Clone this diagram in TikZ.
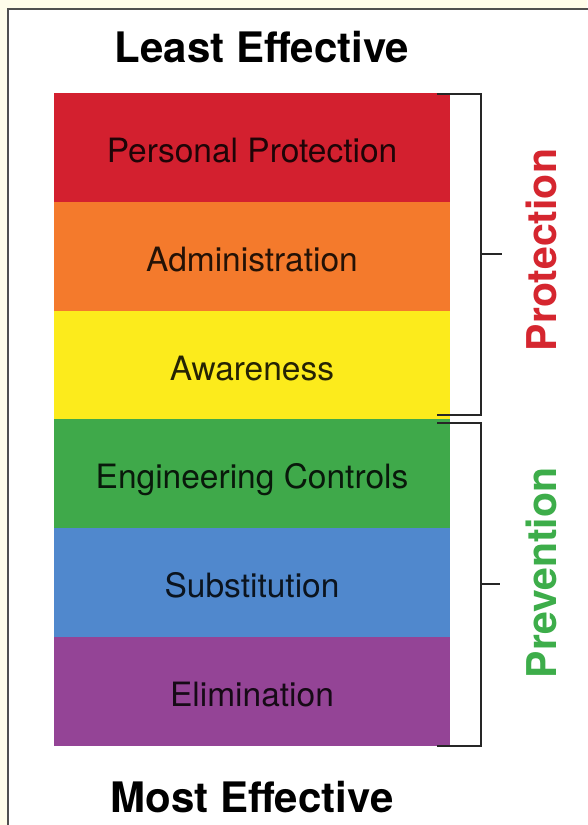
\documentclass[tikz,border=0pt]{standalone}
\usepackage{fontspec}
\setmainfont{TeX Gyre Heros}
\usepackage{tikz}
\definecolor{pagecream}{HTML}{FFFDEA}
\definecolor{framegrey}{HTML}{505050}
\definecolor{ppred}{HTML}{D3202F}
\definecolor{adorange}{HTML}{F47A2C}
\definecolor{awyellow}{HTML}{FCEB1C}
\definecolor{engreen}{HTML}{3FA94A}
\definecolor{subblue}{HTML}{5088CD}
\definecolor{elpurple}{HTML}{944496}
\definecolor{protred}{HTML}{D5262F}
\definecolor{prevgreen}{HTML}{3DAD4A}
\tikzset{
every node/.style={inner sep=0pt, outer sep=0pt},
bar/.style={rectangle, anchor=north west, minimum width=396pt, minimum height=109pt,
  text=black, text opacity=0.85, text height=30pt, text depth=0pt,
  font=\fontsize{33.5}{33.5}\selectfont},
heading/.style={anchor=base, font=\fontsize{42}{42}\selectfont\bfseries},
side/.style={rotate=90, font=\fontsize{41}{41}\selectfont\bfseries},
bracket/.style={draw=black!85, line width=1.6pt}
}

\begin{document}
\begin{tikzpicture}[x=1pt, y=-1pt]
\fill [pagecream] (0,0) rectangle (587,825);
\useasboundingbox (0,0) rectangle (587,825);
\filldraw [fill=white, draw=framegrey, line width=1.5pt] (8,9) rectangle (620,860);

\node [heading] (least) at (262,62) {Least Effective};

\node [bar, fill=ppred] (pp) at (54,93) {Personal Protection};
\node [bar, fill=adorange] (ad) at (54,202) {Administration};
\node [bar, fill=awyellow] (aw) at (54,311) {Awareness};
\node [bar, fill=engreen] (en) at (54,419) {Engineering Controls};
\node [bar, fill=subblue] (sb) at (54,528) {Substitution};
\node [bar, fill=elpurple] (el) at (54,637) {Elimination};

\node [heading] (most) at (252,812) {Most Effective};

\draw [bracket] (437,94) -- (481,94) -- (481,415) -- (437,415);
\draw [bracket] (481,254) -- (502,254);
\draw [bracket] (437,423) -- (481,423) -- (481,746) -- (437,746);
\draw [bracket] (481,584) -- (500,584);

\node [side, text=protred] (prot) at (541,250) {Protection};
\node [side, text=prevgreen] (prev) at (541,573) {Prevention};
\end{tikzpicture}
\end{document}
